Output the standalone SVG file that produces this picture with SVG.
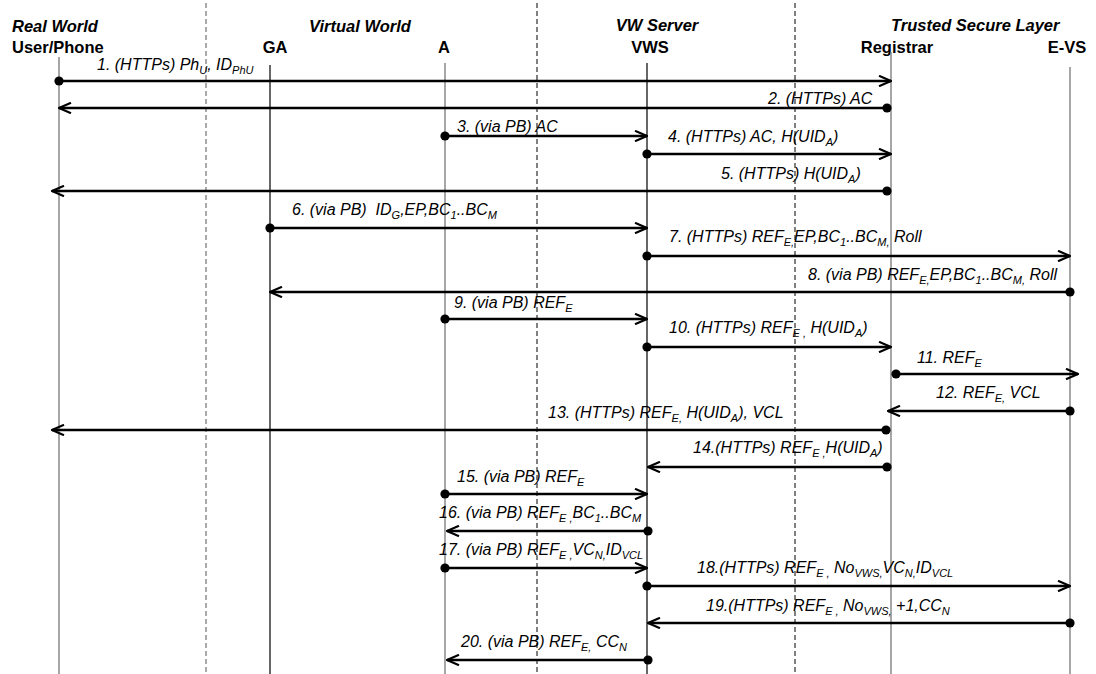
<svg xmlns="http://www.w3.org/2000/svg" width="1096" height="674" viewBox="0 0 1096 674">
<style>
.hd{font-family:"Liberation Sans",Arial,sans-serif;font-weight:bold;font-size:16.5px;fill:#000}
.hi{font-style:italic}
.lb{font-family:"Liberation Sans",Arial,sans-serif;font-style:italic;font-size:16px;fill:#000}
.sb{font-size:11px}
.ll{stroke:#777;stroke-width:1.3;fill:none}
.lk{stroke:#000;stroke-width:1.2;fill:none}
.dv{stroke:#000;stroke-width:1;stroke-dasharray:5,3;fill:none}
.msg{stroke:#000;stroke-width:2.5;fill:none;marker-start:url(#dot);marker-end:url(#arr)}
</style>
<defs>
<marker id="arr" viewBox="0 0 14 12" refX="13" refY="6" markerWidth="14" markerHeight="12" markerUnits="userSpaceOnUse" orient="auto">
<path d="M1,0.8 L13,6 L1,11.2" fill="none" stroke="#000" stroke-width="2.2"/>
</marker>
<marker id="dot" viewBox="0 0 10 10" refX="5" refY="5" markerWidth="10" markerHeight="10" markerUnits="userSpaceOnUse" orient="auto">
<circle cx="5" cy="5" r="4.6" fill="#000"/>
</marker>
</defs>
<rect width="1096" height="674" fill="#fff"/>

<g id="dividers">
<line class="dv" x1="206" y1="3" x2="206" y2="674" stroke="#555" style="stroke:#555"/>
<line class="dv" x1="537" y1="3" x2="537" y2="674"/>
<line class="dv" x1="795" y1="3" x2="795" y2="674"/>
</g>

<g id="headers">
<text class="hd hi" x="12" y="32">Real World</text>
<text class="hd hi" x="360" y="32" text-anchor="middle">Virtual World</text>
<text class="hd hi" x="657" y="31" text-anchor="middle">VW Server</text>
<text class="hd hi" x="891" y="31">Trusted Secure Layer</text>
</g>

<g id="user-phone">
<text class="hd" x="12" y="53">User/Phone</text>
<line class="ll" x1="59" y1="57" x2="59" y2="674"/>
</g>
<g id="ga">
<text class="hd" x="275" y="53" text-anchor="middle">GA</text>
<line class="lk" x1="270" y1="65" x2="270" y2="674"/>
</g>
<g id="a">
<text class="hd" x="444" y="53" text-anchor="middle">A</text>
<line class="ll" x1="445" y1="63" x2="445" y2="674"/>
</g>
<g id="vws">
<text class="hd" x="650" y="53" text-anchor="middle">VWS</text>
<line class="lk" x1="647" y1="63" x2="647" y2="674"/>
</g>
<g id="registrar">
<text class="hd" x="897" y="53" text-anchor="middle">Registrar</text>
<line class="ll" x1="891" y1="52" x2="891" y2="674"/>
</g>
<g id="e-vs">
<text class="hd" x="1067" y="53" text-anchor="middle">E-VS</text>
<line class="ll" x1="1070" y1="67" x2="1070" y2="674"/>
</g>

<g id="connectors">
<line class="msg" x1="59" y1="81" x2="891" y2="81"/>
<text class="lb" x="97" y="70">1. (HTTPs) Ph<tspan class="sb" dy="4">U</tspan><tspan dy="-4">, ID</tspan><tspan class="sb" dy="4">PhU</tspan></text>

<line class="msg" x1="887" y1="108" x2="59" y2="108"/>
<text class="lb" x="768" y="104">2. (HTTPs) AC</text>

<line class="msg" x1="445" y1="136" x2="647" y2="136"/>
<text class="lb" x="457" y="132">3. (via PB) AC</text>

<line class="msg" x1="647" y1="154" x2="891" y2="154"/>
<text class="lb" x="668" y="142">4. (HTTPs) AC, H(UID<tspan class="sb" dy="4">A</tspan><tspan dy="-4">)</tspan></text>

<line class="msg" x1="887" y1="191" x2="52" y2="191"/>
<text class="lb" x="721" y="179">5. (HTTPs) H(UID<tspan class="sb" dy="4">A</tspan><tspan dy="-4">)</tspan></text>

<line class="msg" x1="270" y1="228" x2="647" y2="228"/>
<text class="lb" x="292" y="215" xml:space="preserve">6. (via PB)  ID<tspan class="sb" dy="4">G</tspan><tspan dy="-4">,EP,BC</tspan><tspan class="sb" dy="4">1</tspan><tspan dy="-4">..BC</tspan><tspan class="sb" dy="4">M</tspan></text>

<line class="msg" x1="647" y1="256" x2="1070" y2="256"/>
<text class="lb" x="669" y="242">7. (HTTPs) REF<tspan class="sb" dy="4">E,</tspan><tspan dy="-4">EP,BC</tspan><tspan class="sb" dy="4">1</tspan><tspan dy="-4">..BC</tspan><tspan class="sb" dy="4">M,</tspan><tspan dy="-4"> Roll</tspan></text>

<line class="msg" x1="1070" y1="292" x2="270" y2="292"/>
<text class="lb" x="808" y="280">8. (via PB) REF<tspan class="sb" dy="4">E,</tspan><tspan dy="-4">EP,BC</tspan><tspan class="sb" dy="4">1</tspan><tspan dy="-4">..BC</tspan><tspan class="sb" dy="4">M,</tspan><tspan dy="-4"> Roll</tspan></text>

<line class="msg" x1="445" y1="319" x2="647" y2="319"/>
<text class="lb" x="454" y="308">9. (via PB) REF<tspan class="sb" dy="4">E</tspan></text>

<line class="msg" x1="647" y1="347" x2="891" y2="347"/>
<text class="lb" x="669" y="333">10. (HTTPs) REF<tspan class="sb" dy="4">E ,</tspan><tspan dy="-4"> H(UID</tspan><tspan class="sb" dy="4">A</tspan><tspan dy="-4">)</tspan></text>

<line class="msg" x1="896" y1="374" x2="1078" y2="374"/>
<text class="lb" x="917" y="363">11. REF<tspan class="sb" dy="4">E</tspan></text>

<line class="msg" x1="1070" y1="411" x2="888" y2="411"/>
<text class="lb" x="936" y="398">12. REF<tspan class="sb" dy="4">E,</tspan><tspan dy="-4"> VCL</tspan></text>

<line class="msg" x1="886" y1="430" x2="52" y2="430"/>
<text class="lb" x="548" y="418">13. (HTTPs) REF<tspan class="sb" dy="4">E,</tspan><tspan dy="-4"> H(UID</tspan><tspan class="sb" dy="4">A</tspan><tspan dy="-4">), VCL</tspan></text>

<line class="msg" x1="887" y1="467" x2="648" y2="467"/>
<text class="lb" x="693" y="453">14.(HTTPs) REF<tspan class="sb" dy="4">E ,</tspan><tspan dy="-4">H(UID</tspan><tspan class="sb" dy="4">A</tspan><tspan dy="-4">)</tspan></text>

<line class="msg" x1="445" y1="494" x2="647" y2="494"/>
<text class="lb" x="457" y="482">15. (via PB) REF<tspan class="sb" dy="4">E</tspan></text>

<line class="msg" x1="648" y1="531" x2="447" y2="531"/>
<text class="lb" x="439" y="518">16. (via PB) REF<tspan class="sb" dy="4">E ,</tspan><tspan dy="-4">BC</tspan><tspan class="sb" dy="4">1</tspan><tspan dy="-4">..BC</tspan><tspan class="sb" dy="4">M</tspan></text>

<line class="msg" x1="445" y1="568" x2="647" y2="568"/>
<text class="lb" x="439" y="555">17. (via PB) REF<tspan class="sb" dy="4">E ,</tspan><tspan dy="-4">VC</tspan><tspan class="sb" dy="4">N,</tspan><tspan dy="-4">ID</tspan><tspan class="sb" dy="4">VCL</tspan></text>

<line class="msg" x1="647" y1="586" x2="1070" y2="586"/>
<text class="lb" x="697" y="573">18.(HTTPs) REF<tspan class="sb" dy="4">E ,</tspan><tspan dy="-4"> No</tspan><tspan class="sb" dy="4">VWS,</tspan><tspan dy="-4">VC</tspan><tspan class="sb" dy="4">N,</tspan><tspan dy="-4">ID</tspan><tspan class="sb" dy="4">VCL</tspan></text>

<line class="msg" x1="1070" y1="623" x2="648" y2="623"/>
<text class="lb" x="706" y="611">19.(HTTPs) REF<tspan class="sb" dy="4">E ,</tspan><tspan dy="-4"> No</tspan><tspan class="sb" dy="4">VWS,</tspan><tspan dy="-4"> +1,CC</tspan><tspan class="sb" dy="4">N</tspan></text>

<line class="msg" x1="648" y1="660" x2="447" y2="660"/>
<text class="lb" x="461" y="647">20. (via PB) REF<tspan class="sb" dy="4">E,</tspan><tspan dy="-4"> CC</tspan><tspan class="sb" dy="4">N</tspan></text>
</g>
</svg>
